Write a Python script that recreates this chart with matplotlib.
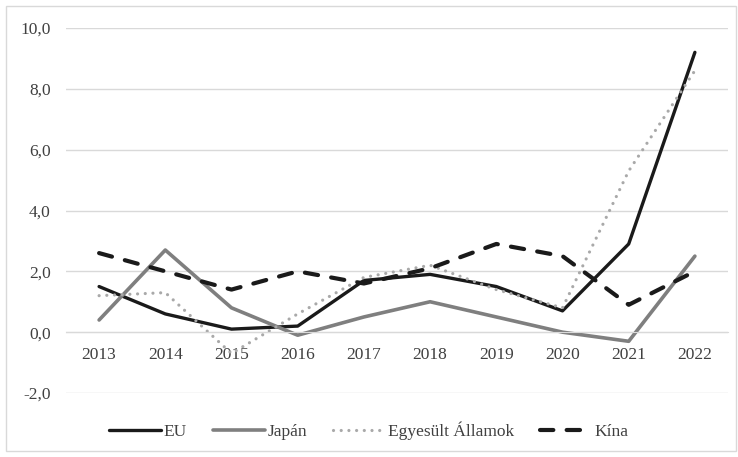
import matplotlib.pyplot as plt
from matplotlib.patches import Rectangle

# inflation-like data
years = ['2013', '2014', '2015', '2016', '2017', '2018', '2019', '2020', '2021', '2022']
eu = [1.5, 0.6, 0.1, 0.2, 1.7, 1.9, 1.5, 0.7, 2.9, 9.2]
japan = [0.4, 2.7, 0.8, -0.1, 0.5, 1.0, 0.5, 0.0, -0.3, 2.5]
usa = [1.2, 1.3, -0.7, 0.6, 1.8, 2.2, 1.4, 0.8, 5.3, 8.6]
china = [2.6, 2.0, 1.4, 2.0, 1.6, 2.1, 2.9, 2.5, 0.9, 2.0]

plt.rcParams['font.family'] = ['Liberation Serif', 'DejaVu Serif']
plt.rcParams['font.size'] = 12.5

W, H = 738, 457
fig = plt.figure(figsize=(W / 100, H / 100), dpi=100)
ax = fig.add_axes([66 / W, 1 - 393 / H, (728 - 66) / W, (393 - 28) / H])

x = range(len(years))
ax.plot(x, eu, color='#1a1a1a', lw=2.4, label='EU', solid_capstyle='round')
ax.plot(x, japan, color='#7f7f7f', lw=2.6, label='Japán', solid_capstyle='round')
ax.plot(x, usa, color='#a9a9a9', lw=2.3, label='Egyesült Államok',
        dashes=(0.01, 2.4), dash_capstyle='round')
ax.plot(x, china, color='#1a1a1a', lw=3.0, label='Kína',
        dashes=(3.2, 3.2), dash_capstyle='round')

ax.set_xlim(-0.5, len(years) - 0.5)
ax.set_ylim(-2, 10)
ax.set_yticks(range(-2, 11, 2))
ax.set_yticklabels([f'{v:.1f}'.replace('.', ',') for v in range(-2, 11, 2)])
ax.set_xticks(list(x))
ax.set_xticklabels(years)

ax.grid(axis='y', color='#d9d9d9', lw=1)
ax.set_axisbelow(True)
for s in ['top', 'right', 'left']:
    ax.spines[s].set_visible(False)
ax.spines['bottom'].set_position(('data', 0))
ax.spines['bottom'].set_color('#d9d9d9')
ax.tick_params(axis='both', length=0, colors='#404040')
ax.tick_params(axis='x', pad=11)
ax.tick_params(axis='y', pad=11)

fig.legend(loc='center', bbox_to_anchor=(0.5, 1 - 431 / H), ncol=4, frameon=False,
           handlelength=3.0, handletextpad=0.15, columnspacing=1.5,
           labelcolor='#404040')

fig.patches.append(Rectangle((6 / W, 6 / H), 1 - 8 / W, 1 - 12 / H,
                             transform=fig.transFigure, fill=False,
                             edgecolor='#d9d9d9', lw=1))

fig.savefig('out.png', dpi=100)
